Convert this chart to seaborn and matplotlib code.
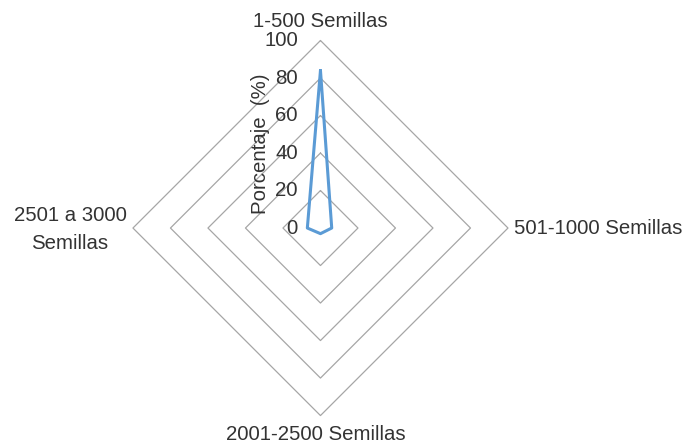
import numpy as np
import pandas as pd
import matplotlib
matplotlib.use("Agg")
import matplotlib.pyplot as plt
import seaborn as sns

# Seed-count classes (clockwise from the top) and share of samples in each
categories = ["1-500 Semillas", "501-1000 Semillas", "2001-2500 Semillas", "2501 a 3000\nSemillas"]
values = [84, 6, 3, 7]
ring_levels = [20, 40, 60, 80, 100]
tick_labels = ["0", "20", "40", "60", "80", "100"]

sns.set_theme(style="white")
plt.rcParams["font.family"] = ["Liberation Sans", "DejaVu Sans"]

fig = plt.figure(figsize=(6.88, 4.45), dpi=100)
ax = fig.add_axes([0, 0, 1, 1])
ax.set_xlim(-170.9, 196.0)
ax.set_ylim(-115.7, 121.6)
ax.set_axis_off()

n = len(categories)
angles = np.pi / 2 - np.arange(n) * 2 * np.pi / n  # start at top, go clockwise

# diamond grid rings
for lvl in ring_levels:
    gx = np.r_[lvl * np.cos(angles), lvl * np.cos(angles[0])]
    gy = np.r_[lvl * np.sin(angles), lvl * np.sin(angles[0])]
    ax.plot(gx, gy, color="#A6A6A6", lw=0.9, zorder=1)

# data polygon
vals = np.array(values, dtype=float)
df = pd.DataFrame({
    "x": np.r_[vals * np.cos(angles), vals[0] * np.cos(angles[0])],
    "y": np.r_[vals * np.sin(angles), vals[0] * np.sin(angles[0])],
})
sns.lineplot(data=df, x="x", y="y", sort=False, estimator=None, color="#5B9BD5",
             lw=2.2, ax=ax, zorder=3)

fs = 14.7
txt = "#333333"
# radial tick labels
for i, t in enumerate(tick_labels):
    ax.text(-12, i * 20, t, ha="right", va="center", fontsize=fs, color=txt)
ax.text(-32, 45, "Porcentaje  (%)", rotation=90, ha="center", va="center",
        fontsize=fs, color=txt)

# category labels
ax.text(0, 110.4, categories[0], ha="center", va="center", fontsize=fs, color=txt)
ax.text(103, -0.5, categories[1], ha="left", va="center", fontsize=fs, color=txt)
ax.text(-2.4, -109.9, categories[2], ha="center", va="center", fontsize=fs, color=txt)
ax.text(-133.6, -1, categories[3], ha="center", va="center", fontsize=fs,
        color=txt, linespacing=1.6)

fig.savefig("out.png", dpi=100)
